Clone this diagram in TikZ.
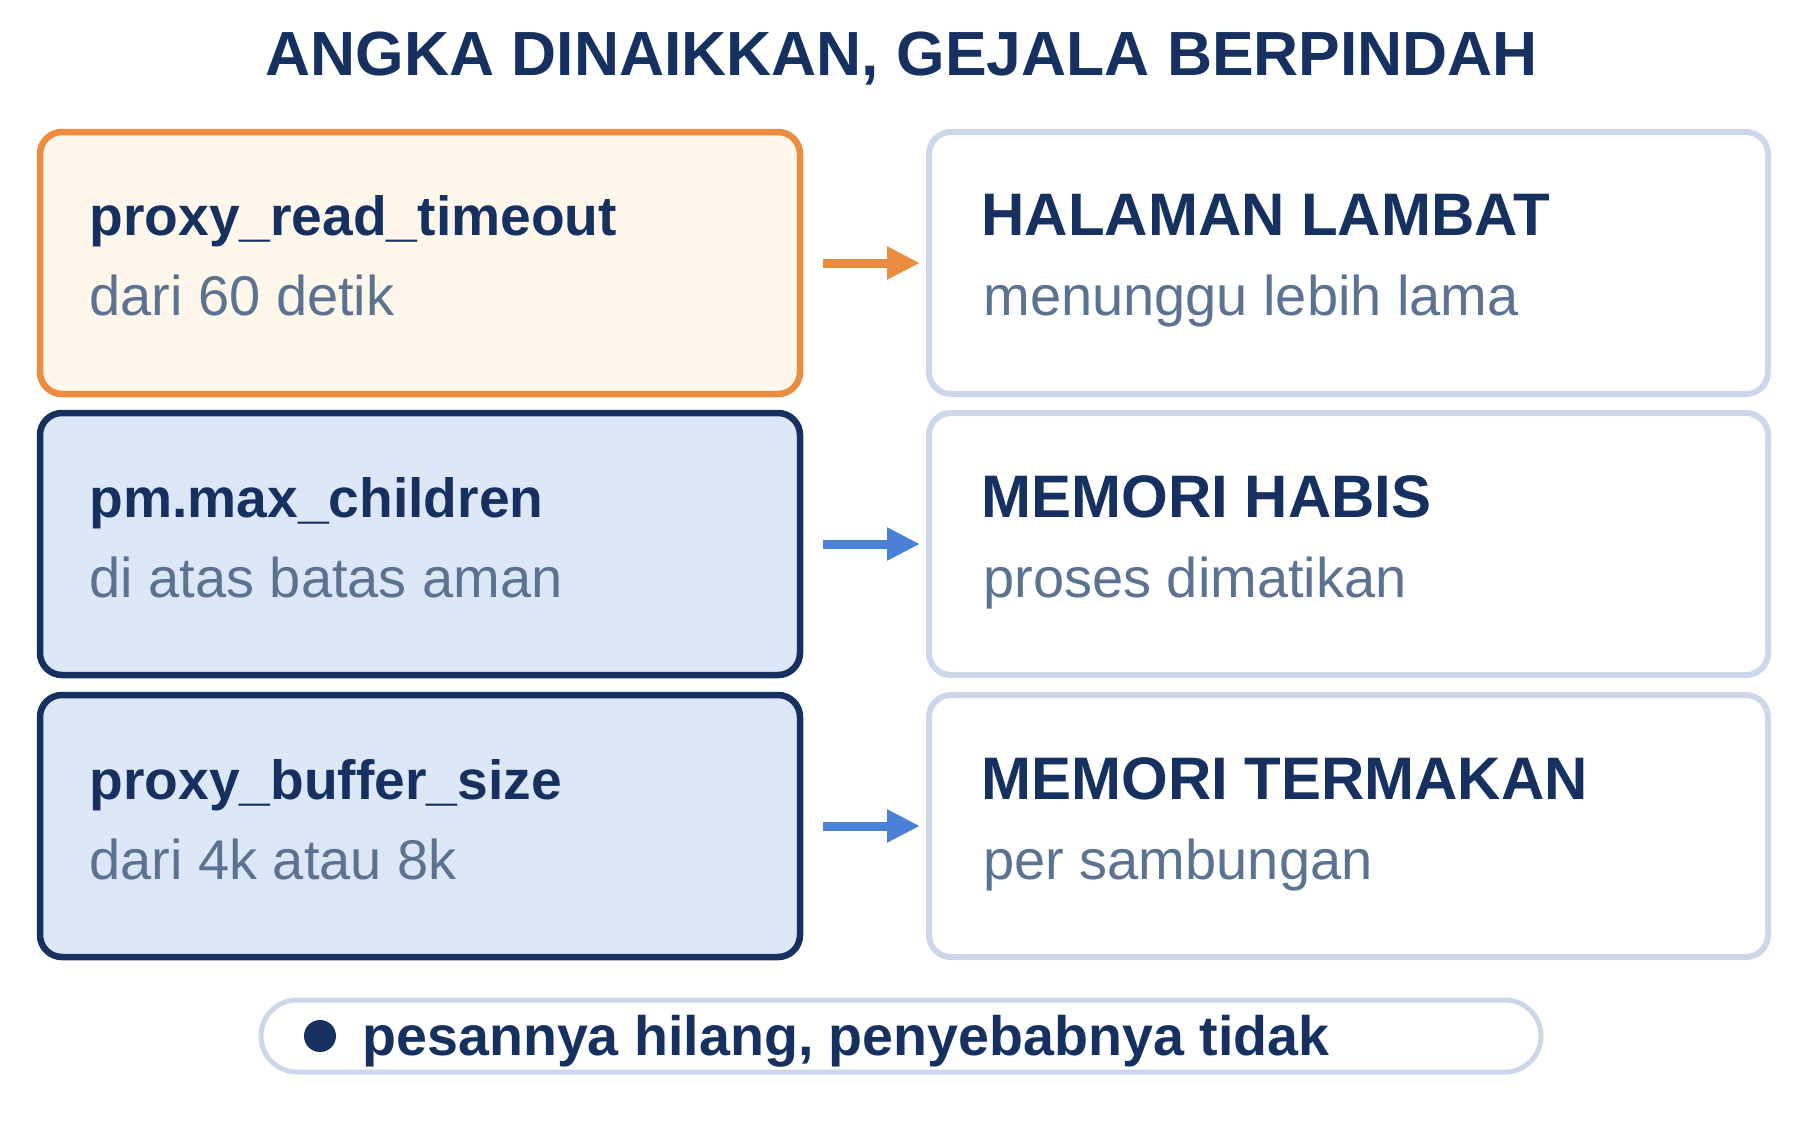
\documentclass[tikz,border=0pt]{standalone}
\usepackage{fontspec}
\setmainfont{Liberation Sans}
\usetikzlibrary{arrows.meta}

\newlength{\du}
\setlength{\du}{0.5pt}

\definecolor{navyline}{rgb}{0.086275, 0.192157, 0.372549}
\definecolor{subtext}{rgb}{0.356863, 0.450980, 0.568627}
\definecolor{orangeline}{rgb}{0.921569, 0.549020, 0.247059}
\definecolor{orangefill}{rgb}{1.000000, 0.964706, 0.925490}
\definecolor{bluefill}{rgb}{0.862745, 0.909804, 0.968627}
\definecolor{greyline}{rgb}{0.800000, 0.847059, 0.913725}
\definecolor{bluearrow}{rgb}{0.290196, 0.501961, 0.839216}

\tikzset{
  parambox/.style={rectangle, rounded corners=22\du, line width=3.25pt, inner sep=0pt, outer sep=0pt,
    minimum width=760\du, minimum height=262\du},
  effectbox/.style={rectangle, rounded corners=22\du, line width=3pt, draw=greyline, fill=white,
    inner sep=0pt, outer sep=0pt, minimum width=839\du, minimum height=262\du},
  headtext/.style={anchor=base west, inner sep=0pt, text=navyline, font=\fontsize{27.6}{34}\selectfont\bfseries},
  effecthead/.style={headtext, font=\fontsize{30}{36}\selectfont\bfseries},
  subline/.style={anchor=base west, inner sep=0pt, text=subtext, font=\fontsize{28}{34}\selectfont},
  linkarrow/.style={line width=4.5pt, -{Triangle[length=16.5pt,width=15.5pt]}, shorten <=23\du, shorten >=9\du}
}

\begin{document}
\begin{tikzpicture}
\pgftransformxscale{1.000000}
\pgftransformyscale{-1.000000}
\useasboundingbox (0\du,0\du) rectangle (1800\du,1120\du);
% title
\node[anchor=base, inner sep=0pt, text=navyline, font=\fontsize{31.2}{36}\selectfont\bfseries] (title) at (902\du,75\du){ANGKA DINAIKKAN, GEJALA BERPINDAH};
% left column: settings
\node[parambox, draw=orangeline, fill=orangefill] (timeout) at (420\du,263\du){};
\node[headtext] (timeouthead) at (89\du,235\du){proxy\_read\_timeout};
\node[subline] (timeoutsub) at (89\du,315\du){dari 60 detik};
\node[parambox, draw=navyline, fill=bluefill] (children) at (420\du,544\du){};
\node[headtext] (childrenhead) at (89\du,517\du){pm.max\_children};
\node[subline] (childrensub) at (89\du,597\du){di atas batas aman};
\node[parambox, draw=navyline, fill=bluefill] (buffer) at (420\du,826\du){};
\node[headtext] (bufferhead) at (89\du,799\du){proxy\_buffer\_size};
\node[subline] (buffersub) at (89\du,879\du){dari 4k atau 8k};
% right column: symptoms
\node[effectbox] (slow) at (1348.5\du,263\du){};
\node[effecthead] (slowhead) at (981\du,235\du){HALAMAN LAMBAT};
\node[subline] (slowsub) at (983\du,315\du){menunggu lebih lama};
\node[effectbox] (oom) at (1348.5\du,544\du){};
\node[effecthead] (oomhead) at (981\du,517\du){MEMORI HABIS};
\node[subline] (oomsub) at (983\du,597\du){proses dimatikan};
\node[effectbox] (eaten) at (1348.5\du,826\du){};
\node[effecthead] (eatenhead) at (981\du,799\du){MEMORI TERMAKAN};
\node[subline] (eatensub) at (983\du,879\du){per sambungan};
% arrows
\draw[linkarrow, draw=orangeline, fill=orangeline] (timeout.east) -- (slow.west);
\draw[linkarrow, draw=bluearrow, fill=bluearrow] (children.east) -- (oom.west);
\draw[linkarrow, draw=bluearrow, fill=bluearrow] (buffer.east) -- (eaten.west);
% note at the bottom
\node[rectangle, rounded corners=36\du, line width=2.5pt, draw=greyline, fill=white, inner sep=0pt,
  minimum width=1280\du, minimum height=72\du] (note) at (901\du,1036\du){};
\node[circle, fill=navyline, inner sep=0pt, minimum size=32\du] (notedot) at (320\du,1036\du){};
\node[headtext, font=\fontsize{27.8}{34}\selectfont\bfseries] (notetext) at (362\du,1055\du){pesannya hilang, penyebabnya tidak};
\end{tikzpicture}
\end{document}
